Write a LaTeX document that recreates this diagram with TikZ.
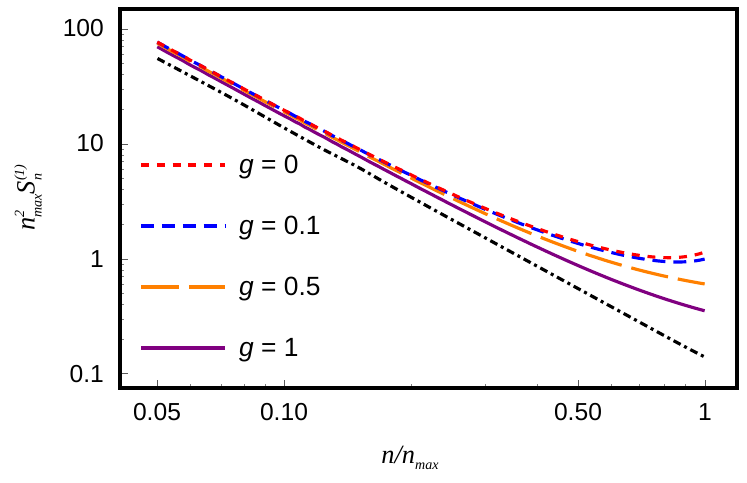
\documentclass[tikz,border=0pt]{standalone}
\usepackage{fontspec}
\setmainfont{Liberation Sans}
\newfontfamily\serifit{Liberation Serif}
\begin{document}
\begin{tikzpicture}[x=0.02cm,y=-0.02cm,
  crv/.style={line width=1.8pt,smooth},
  dred/.style={dash pattern=on 4.5pt off 4.5pt},
  dblue/.style={dash pattern=on 7.4pt off 4.5pt},
  dorange/.style={dash pattern=on 21.5pt off 5.7pt},
  dblack/.style={dash pattern=on 4.5pt off 2.3pt on 1.7pt off 2.3pt},
  tlab/.style={font=\fontsize{14}{14}\selectfont},
  leg/.style={font=\fontsize{15}{15}\selectfont,anchor=west}]
\useasboundingbox (0,0) rectangle (747,483);
\definecolor{cred}{RGB}{255,0,0}
\definecolor{cblue}{RGB}{0,0,255}
\definecolor{corange}{RGB}{255,128,0}
\definecolor{cpurple}{RGB}{128,0,128}
\begin{scope}
\clip (120,9) rectangle (737,388);
\draw[crv,black,dblack,domain=0.05:1,samples=40] plot ({705+421*log10(\x)},{259-115*log10(0.138/(\x*\x))});
\draw[crv,cpurple,variable=\t,domain=-1.301:0,samples=120] plot ({705+421*\t},{259-115*log10(0.174/(10^(2*\t))+0.18)});
\draw[crv,corange,dorange,variable=\t,domain=-1.301:0,samples=120] plot ({705+421*\t},{259-115*log10(0.186/(10^(2*\t))+0.42)});
\draw[crv,cblue,dblue,variable=\t,domain=-1.301:0,samples=120] plot ({705+421*\t},{259-115*log10(0.19/(10^(2*\t))+0.6+0.21*10^(6*\t))});
\draw[crv,cred,dred,variable=\t,domain=-1.301:0,samples=120] plot ({705+421*\t},{259-115*log10(0.19/(10^(2*\t))+0.65+0.31*10^(6*\t))});
\end{scope}
% ticks
\foreach \v in {100,10,1,0.1} \draw[line width=0.5pt,gray!70!black] (120,{259-115*log10(\v)}) -- ++(8,0);
\foreach \d in {0.1,1,10} \foreach \m in {2,...,9} \draw[line width=0.4pt,gray] (120,{259-115*log10(\d*\m)}) -- ++(4,0);
\foreach \v in {0.05,0.1,0.5,1} \draw[line width=0.5pt,gray!70!black] ({705+421*log10(\v)},388) -- ++(0,-8);
\foreach \v in {0.06,0.07,0.08,0.09,0.2,0.3,0.4,0.6,0.7,0.8,0.9} \draw[line width=0.4pt,gray] ({705+421*log10(\v)},388) -- ++(0,-4);
\draw[line width=2.2pt] (120,9) rectangle (737,388);
% labels
\node[tlab,anchor=east] (y100) at (110,28) {100};
\node[tlab,anchor=east] (y10) at (110,143) {10};
\node[tlab,anchor=east] (y1) at (110,259) {1};
\node[tlab,anchor=east] (y01) at (110,374) {0.1};
\node[tlab,anchor=north] (x005) at (157,397) {0.05};
\node[tlab,anchor=north] (x010) at (284,397) {0.10};
\node[tlab,anchor=north] (x050) at (578,397) {0.50};
\node[tlab,anchor=north] (x1) at (705,397) {1};
\node[font=\fontsize{15}{15}\selectfont\serifit\itshape] (xl) at (410,458) {n/n\raisebox{-3pt}{\footnotesize max}};
\node[font=\fontsize{15}{15}\selectfont\serifit\itshape,rotate=90] (yl) at (28,200) {n\rlap{\raisebox{6pt}{\footnotesize 2}}\raisebox{-4pt}{\footnotesize max}S\rlap{\raisebox{6pt}{\footnotesize (1)}}\raisebox{-4pt}{\footnotesize n}\phantom{\footnotesize )}};
% legend
\draw[crv,cred,dred] (141,165) -- (225,165);
\draw[crv,cblue,dblue] (141,226) -- (225,226);
\draw[crv,corange,dorange] (141,287) -- (225,287);
\draw[crv,cpurple] (141,348) -- (225,348);
\node[leg] (l0) at (233,167) {\textit{g} = 0};
\node[leg] (l1) at (233,228) {\textit{g} = 0.1};
\node[leg] (l2) at (233,289) {\textit{g} = 0.5};
\node[leg] (l3) at (233,350) {\textit{g} = 1};
\end{tikzpicture}
\end{document}
